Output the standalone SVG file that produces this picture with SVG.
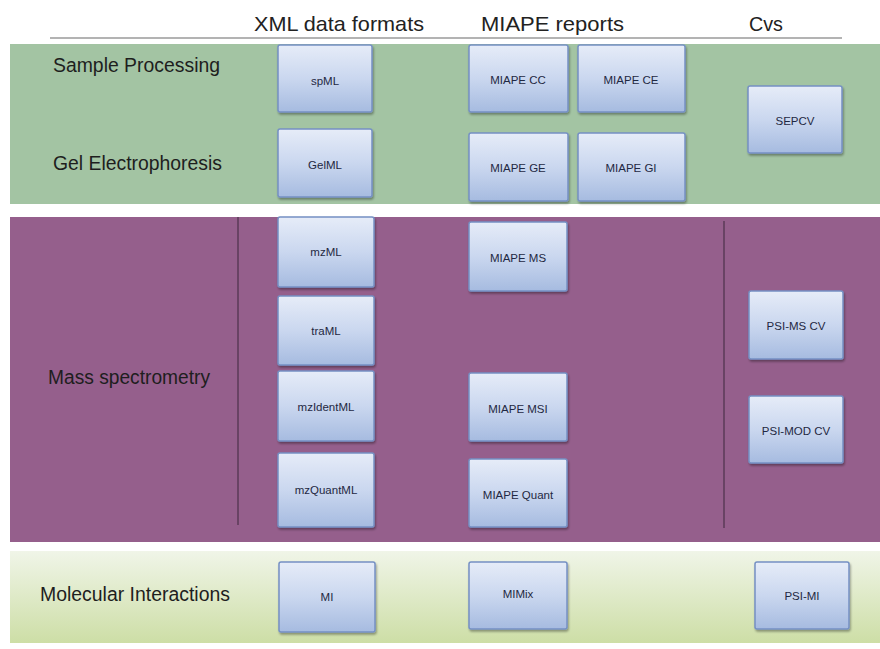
<svg xmlns="http://www.w3.org/2000/svg" width="880" height="649" viewBox="0 0 880 649">
<defs>
<linearGradient id="boxg" x1="0" y1="0" x2="0" y2="1">
<stop offset="0" stop-color="#e6ecf8"/>
<stop offset="0.5" stop-color="#cad7ef"/>
<stop offset="1" stop-color="#a6bbe0"/>
</linearGradient>
<linearGradient id="lgband" x1="0" y1="0" x2="0" y2="1">
<stop offset="0" stop-color="#f0f5e8"/>
<stop offset="1" stop-color="#cddea6"/>
</linearGradient>
<filter id="sh" x="-10%" y="-10%" width="125%" height="125%">
<feDropShadow dx="1" dy="2" stdDeviation="1.2" flood-color="#000" flood-opacity="0.35"/>
</filter>
</defs>
<style>
.box{fill:url(#boxg);stroke:#7590c4;stroke-width:1.5;filter:url(#sh)}
.bl{font-family:"Liberation Sans",Arial,sans-serif;font-size:11.5px;fill:#1f2842;text-anchor:middle;dominant-baseline:central}
.hd{font-family:"Liberation Sans",Arial,sans-serif;font-size:21px;fill:#222}
.rl{font-family:"Liberation Sans",Arial,sans-serif;font-size:19.4px;fill:#1e1e1e}
.vl{stroke:#5b3a57;stroke-width:1.5}
</style>
<rect width="880" height="649" fill="#ffffff"/>
<g id="bands">
<rect x="10" y="44" width="870" height="160" fill="#a3c4a3"/>
<rect x="10" y="217" width="870" height="325" fill="#955f8c"/>
<rect x="10" y="551" width="870" height="92" fill="url(#lgband)"/>
</g>
<g id="header">
<line x1="50" y1="38" x2="842" y2="38" stroke="#9a9a9a" stroke-width="1.5"/>
<text class="hd" x="254" y="31" textLength="170" lengthAdjust="spacingAndGlyphs">XML data formats</text>
<text class="hd" x="481" y="31" textLength="143" lengthAdjust="spacingAndGlyphs">MIAPE reports</text>
<text class="hd" x="749" y="31" textLength="34" lengthAdjust="spacingAndGlyphs">Cvs</text>
</g>
<g id="row-labels">
<text class="rl" x="53" y="72" textLength="167" lengthAdjust="spacingAndGlyphs">Sample Processing</text>
<text class="rl" x="53" y="170" textLength="169" lengthAdjust="spacingAndGlyphs">Gel Electrophoresis</text>
<text class="rl" x="48" y="384" textLength="162" lengthAdjust="spacingAndGlyphs">Mass spectrometry</text>
<text class="rl" x="40" y="601" textLength="190" lengthAdjust="spacingAndGlyphs">Molecular Interactions</text>
</g>
<g id="connectors">
<line class="vl" x1="238" y1="217" x2="238" y2="525"/>
<line class="vl" x1="724" y1="221" x2="724" y2="528"/>
</g>
<g id="spML"><rect class="box" x="278" y="45" width="94" height="67" rx="2"/><text class="bl" x="325" y="81">spML</text></g>
<g id="GelML"><rect class="box" x="278" y="129" width="94" height="68" rx="2"/><text class="bl" x="325" y="165">GelML</text></g>
<g id="MIAPE-CC"><rect class="box" x="469" y="45" width="99" height="67" rx="2"/><text class="bl" x="518" y="80">MIAPE CC</text></g>
<g id="MIAPE-CE"><rect class="box" x="578" y="45" width="107" height="67" rx="2"/><text class="bl" x="631" y="80">MIAPE CE</text></g>
<g id="MIAPE-GE"><rect class="box" x="469" y="133" width="99" height="68" rx="2"/><text class="bl" x="518" y="168">MIAPE GE</text></g>
<g id="MIAPE-GI"><rect class="box" x="578" y="133" width="107" height="68" rx="2"/><text class="bl" x="631" y="168">MIAPE GI</text></g>
<g id="SEPCV"><rect class="box" x="748" y="86" width="94" height="67" rx="2"/><text class="bl" x="795" y="121">SEPCV</text></g>
<g id="mzML"><rect class="box" x="278" y="217" width="96" height="70" rx="2"/><text class="bl" x="326" y="252">mzML</text></g>
<g id="traML"><rect class="box" x="278" y="296" width="96" height="69" rx="2"/><text class="bl" x="326" y="331">traML</text></g>
<g id="mzIdentML"><rect class="box" x="278" y="371" width="96" height="70" rx="2"/><text class="bl" x="326" y="407">mzIdentML</text></g>
<g id="mzQuantML"><rect class="box" x="278" y="453" width="96" height="74" rx="2"/><text class="bl" x="326" y="490">mzQuantML</text></g>
<g id="MIAPE-MS"><rect class="box" x="469" y="222" width="98" height="69" rx="2"/><text class="bl" x="518" y="258">MIAPE MS</text></g>
<g id="MIAPE-MSI"><rect class="box" x="469" y="373" width="98" height="68" rx="2"/><text class="bl" x="518" y="409">MIAPE MSI</text></g>
<g id="MIAPE-Quant"><rect class="box" x="469" y="459" width="98" height="68" rx="2"/><text class="bl" x="518" y="495">MIAPE Quant</text></g>
<g id="PSI-MS-CV"><rect class="box" x="749" y="291" width="94" height="68" rx="2"/><text class="bl" x="796" y="326">PSI-MS CV</text></g>
<g id="PSI-MOD-CV"><rect class="box" x="749" y="396" width="94" height="67" rx="2"/><text class="bl" x="796" y="431">PSI-MOD CV</text></g>
<g id="MI"><rect class="box" x="279" y="562" width="96" height="70" rx="2"/><text class="bl" x="327" y="597">MI</text></g>
<g id="MIMix"><rect class="box" x="469" y="562" width="98" height="67" rx="2"/><text class="bl" x="518" y="594">MIMix</text></g>
<g id="PSI-MI"><rect class="box" x="755" y="562" width="94" height="67" rx="2"/><text class="bl" x="802" y="596">PSI-MI</text></g>
</svg>
